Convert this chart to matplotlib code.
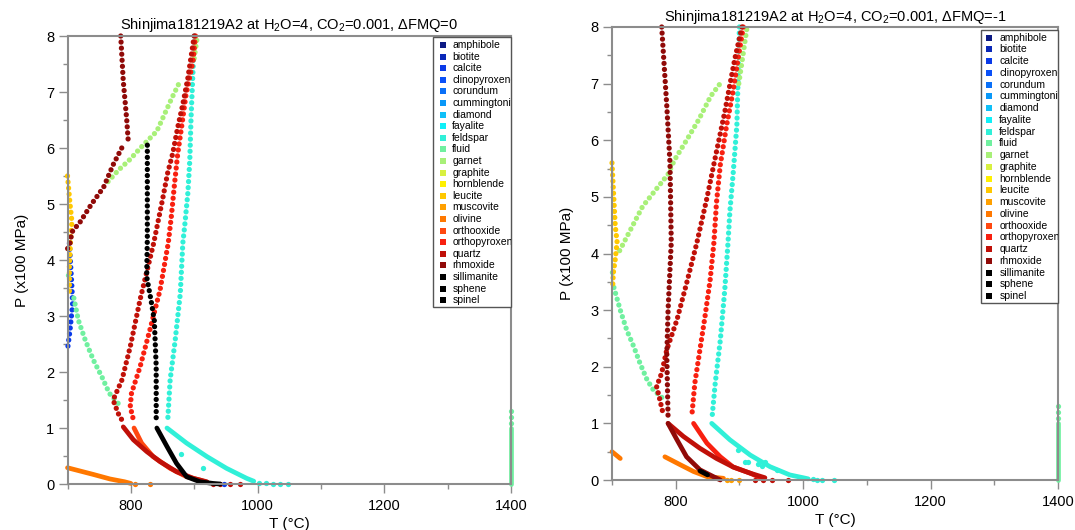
import numpy as np
import matplotlib.pyplot as plt
from matplotlib.patches import Rectangle

plt.rcParams['font.family'] = ['Liberation Sans', 'DejaVu Sans']
plt.rcParams['mathtext.fontset'] = 'custom'
plt.rcParams['mathtext.rm'] = 'Liberation Sans'

# legend phases and colours
phases = ['amphibole', 'biotite', 'calcite', 'clinopyroxene', 'corundum', 'cummingtonite',
          'diamond', 'fayalite', 'feldspar', 'fluid', 'garnet', 'graphite', 'hornblende',
          'leucite', 'muscovite', 'olivine', 'orthooxide', 'orthopyroxene', 'quartz',
          'rhmoxide', 'sillimanite', 'sphene', 'spinel']
phase_colors = ['#0c1a84', '#0a28b8', '#0a3ae8', '#0a50f8', '#0a70f8', '#0a98f8',
                '#10c0f8', '#10f0f8', '#30f0d8', '#70f0a0', '#a8f078', '#d8f040', '#fff000',
                '#ffc800', '#ffa000', '#ff7800', '#ff4810', '#f82010', '#c01008',
                '#900a08', '#000000', '#000000', '#000000']
col = dict(zip(phases, phase_colors))

# ---- left panel, dFMQ = 0 (T in C, P in x100 MPa) ----
# dotted chains
a_rhm1_T = [784, 788, 793.5, 796]
a_rhm1_P = [8.0, 7.2, 6.5, 6.1]
a_rhm2_T = [785.6, 772, 757, 738, 720, 707, 704, 700]
a_rhm2_P = [6.0, 5.7, 5.3, 5.0, 4.68, 4.5, 4.3, 4.2]
a_qtz_T = [900, 890, 882, 874, 866, 858, 850, 836, 814.5, 799, 786, 772, 780, 788]
a_qtz_P = [8.0, 7.25, 6.78, 6.37, 5.9, 5.55, 5.08, 4.3, 3.29, 2.45, 1.86, 1.5, 1.26, 1.1]
a_opx_T = [902, 898, 887, 880, 874, 869, 864, 859, 846, 830, 814.5, 801, 799, 805]
a_opx_P = [8.0, 7.54, 6.95, 6.37, 5.9, 5.37, 4.79, 4.3, 3.46, 2.75, 2.09, 1.62, 1.38, 1.1]
a_fsp_T = [900, 898, 895, 893, 890, 885, 882, 878, 870, 862, 858]
a_fsp_P = [8.0, 7.36, 6.54, 5.78, 5.2, 4.61, 4.3, 3.4, 2.57, 1.86, 1.1]
a_blk_T = [826, 826, 825, 832, 837, 840, 840]
a_blk_P = [6.05, 4.4, 3.7, 3.27, 2.92, 2.1, 1.1]
a_grt_T = [764, 780, 799, 815, 841, 865, 878]
a_grt_P = [5.4, 5.6, 5.8, 6.0, 6.3, 6.9, 7.2]
a_grt2_T = [900, 905]
a_grt2_P = [7.6, 8.0]
a_fl_T = [710, 717, 728, 741, 754, 766, 783]
a_fl_P = [3.32, 2.93, 2.57, 2.21, 1.92, 1.62, 1.4]
a_lc_T = [700, 704, 707, 705, 703, 703]
a_lc_P = [5.5, 5.0, 4.68, 4.4, 3.9, 3.4]
a_cc_T = [703, 707, 708, 704, 700]
a_cc_P = [4.3, 3.5, 3.2, 2.75, 2.4]
# dense low-pressure curves
a_qtz_d_T = [788, 804, 825, 846, 872, 899, 920]
a_qtz_d_P = [1.02, 0.79, 0.58, 0.4, 0.22, 0.1, 0.04]
a_oox_d_T = [805, 817, 835, 862, 888, 909, 920]
a_oox_d_P = [1.0, 0.73, 0.49, 0.28, 0.13, 0.07, 0.03]
a_blk_d_T = [841, 857, 872, 888, 909, 930, 941]
a_blk_d_P = [1.0, 0.67, 0.37, 0.13, 0.04, 0.01, 0.0]
a_fsp_d_T = [857, 888, 920, 951, 983, 994]
a_fsp_d_P = [1.0, 0.73, 0.49, 0.28, 0.1, 0.05]
a_ol_d_T = [700, 741, 767, 790, 800]
a_ol_d_P = [0.29, 0.17, 0.09, 0.04, 0.01]
# single points
a_qtz_pts_T = [930, 940, 956, 973]
a_qtz_pts_P = [0, 0, 0, 0]
a_fsp_pts_T = [879, 914, 1003, 1013, 1024, 1035, 1048]
a_fsp_pts_P = [0.54, 0.28, 0.02, 0.01, 0.0, 0.0, 0.0]
a_ol_pts_T = [806, 830]
a_ol_pts_P = [0, 0]
a_cc_pts_T = [947]
a_cc_pts_P = [0]
a_fl_pts_T = [700]
a_fl_pts_P = [3.73]

# ---- right panel, dFMQ = -1 ----
b_rhm_T = [778, 786, 791, 793, 788, 786, 788]
b_rhm_P = [8.0, 6.6, 5.6, 4.2, 3.0, 2.2, 1.1]
b_qtz_T = [904, 893, 885, 877, 864, 849, 833, 817, 802, 786, 778, 770, 774, 780]
b_qtz_P = [8.0, 7.45, 6.98, 6.5, 5.8, 4.98, 4.18, 3.47, 2.83, 2.3, 1.89, 1.65, 1.47, 1.18]
b_opx_T = [906, 898, 890, 880, 870, 864, 860, 854, 846, 838, 830, 825]
b_opx_P = [8.0, 7.45, 6.86, 6.27, 5.57, 4.9, 4.2, 3.53, 2.89, 2.3, 1.71, 1.1]
b_fsp_T = [900, 898, 896, 890, 885, 882, 877, 870, 862, 857]
b_fsp_P = [8.0, 7.16, 6.27, 5.39, 4.74, 4.18, 3.36, 2.47, 1.71, 1.1]
b_grt_T = [712, 718, 748, 769, 788, 798, 817, 836, 855, 871]
b_grt_P = [4.05, 4.18, 4.83, 5.13, 5.4, 5.65, 6.0, 6.36, 6.78, 7.02]
b_grt2_T = [899, 912]
b_grt2_P = [7.0, 8.0]
b_fl_T = [703, 713, 723, 734, 744, 755, 765, 783]
b_fl_P = [3.4, 3.0, 2.65, 2.36, 2.06, 1.77, 1.59, 1.41]
b_lc_T = [700, 705, 708, 705, 702, 701]
b_lc_P = [5.6, 4.5, 4.2, 3.89, 3.65, 3.4]
b_rhm_d_T = [788, 802, 817, 838, 859, 870]
b_rhm_d_P = [1.0, 0.71, 0.41, 0.18, 0.06, 0.0]
b_qtz_d_T = [788, 812, 838, 864, 890, 917, 940]
b_qtz_d_P = [1.0, 0.77, 0.56, 0.38, 0.23, 0.12, 0.04]
b_opx_d_T = [828, 849, 870, 890, 917, 935]
b_opx_d_P = [1.0, 0.65, 0.41, 0.23, 0.12, 0.03]
b_fsp_d_T = [856.5, 885, 917, 948, 979, 1000, 1008]
b_fsp_d_P = [1.0, 0.71, 0.44, 0.235, 0.09, 0.04, 0.02]
b_ol1_d_T = [700, 713]
b_ol1_d_P = [0.5, 0.38]
b_ol2_d_T = [783, 807, 828, 849, 875]
b_ol2_d_P = [0.41, 0.27, 0.15, 0.06, 0.03]
b_blk_d_T = [838, 850]
b_blk_d_P = [0.16, 0.09]
b_qtz_pts_T = [924, 937, 951, 977]
b_qtz_pts_P = [0, 0, 0, 0]
b_ms_pts_T = [880, 886, 900]
b_ms_pts_P = [0, 0, 0]
b_fsp_pts_T = [898, 909, 913, 929, 935, 940, 959, 1016, 1022, 1030, 1048]
b_fsp_pts_P = [0.53, 0.32, 0.32, 0.29, 0.24, 0.32, 0.18, 0.01, 0.0, 0.0, 0.0]
b_fl_pts_T = [700]
b_fl_pts_P = [3.68]

# fluid column at 1400 C (both panels)
fl1400_dot_T = [1400, 1400]
fl1400_dot_P = [1.3, 1.0]
fl1400_T = [1400, 1400]
fl1400_P = [1.0, 0.0]

LW_DOT = 3.8
LW_DENSE = 3.4


def dotted(ax, T, P, c):
    ax.plot(T, P, color=c, lw=LW_DOT, ls=(0, (0.01, 1.14)), dash_capstyle='round', clip_on=False)


def dense(ax, T, P, c):
    ax.plot(T, P, color=c, lw=LW_DENSE, solid_capstyle='round', clip_on=False)


def pts(ax, T, P, c):
    ax.plot(T, P, 'o', color=c, ms=LW_DOT, mew=0, clip_on=False)


def style_axes(ax, title, title_pad):
    ax.set_xlim(700, 1400)
    ax.set_ylim(0, 8)
    ax.set_xticks([800, 1000, 1200, 1400])
    ax.set_xticks([700, 900, 1100, 1300], minor=True)
    ax.set_yticks(range(0, 9))
    ax.set_yticks(np.arange(0.5, 8, 1), minor=True)
    for s in ax.spines.values():
        s.set_color('#8c8c8c')
        s.set_linewidth(1.5)
    ax.tick_params(which='major', direction='out', length=6.5, width=1, color='#8c8c8c', labelsize=10.5)
    ax.tick_params(which='minor', direction='out', length=3.5, width=1, color='#8c8c8c')
    ax.tick_params(axis='x', which='major', pad=4)
    ax.tick_params(axis='y', which='major', pad=3)
    ax.set_xlabel('T (°C)', fontsize=11, labelpad=3)
    ax.set_ylabel('P (x100 MPa)', fontsize=11, labelpad=12)
    ax.set_title(title, fontsize=10.5, pad=title_pad)


def legend_box(fig, ax, left, top, right, bottom, y0, step, mx, tx):
    W, H = 1075.0, 530.0
    fig.add_artist(Rectangle((left / W, 1 - bottom / H), (right - left) / W, (bottom - top) / H,
                             transform=fig.transFigure, facecolor='white', edgecolor='#555555',
                             lw=1.0, zorder=5))
    for i, (name, c) in enumerate(zip(phases, phase_colors)):
        y = 1 - (y0 + i * step) / H
        fig.add_artist(plt.Line2D([mx / W], [y], marker='s', ms=4.8, mew=0, color=c,
                                  transform=fig.transFigure, zorder=6))
        t = fig.text(tx / W, y, name, fontsize=7.5, va='center', ha='left', zorder=6)
        t.set_clip_box(ax.bbox)
        t.set_clip_on(True)


fig = plt.figure(figsize=(10.75, 5.3), dpi=100)
ax1 = fig.add_axes([67.5 / 1075, 1 - 484 / 530, 443.5 / 1075, 448 / 530])
ax2 = fig.add_axes([612 / 1075, 1 - 480 / 530, 446 / 1075, 453 / 530])

# left panel
dotted(ax1, a_cc_T, a_cc_P, col['calcite'])
dotted(ax1, a_fsp_T, a_fsp_P, col['feldspar'])
dense(ax1, a_fsp_d_T, a_fsp_d_P, col['feldspar'])
pts(ax1, a_fsp_pts_T, a_fsp_pts_P, col['feldspar'])
dotted(ax1, a_fl_T, a_fl_P, col['fluid'])
pts(ax1, a_fl_pts_T, a_fl_pts_P, col['fluid'])
dotted(ax1, fl1400_dot_T, fl1400_dot_P, col['fluid'])
dense(ax1, fl1400_T, fl1400_P, col['fluid'])
dotted(ax1, a_grt_T, a_grt_P, col['garnet'])
dotted(ax1, a_grt2_T, a_grt2_P, col['garnet'])
dotted(ax1, a_lc_T, a_lc_P, col['leucite'])
dense(ax1, a_ol_d_T, a_ol_d_P, col['olivine'])
pts(ax1, a_ol_pts_T, a_ol_pts_P, col['olivine'])
dense(ax1, a_oox_d_T, a_oox_d_P, col['orthooxide'])
dotted(ax1, a_opx_T, a_opx_P, col['orthopyroxene'])
dotted(ax1, a_qtz_T, a_qtz_P, col['quartz'])
dense(ax1, a_qtz_d_T, a_qtz_d_P, col['quartz'])
pts(ax1, a_qtz_pts_T, a_qtz_pts_P, col['quartz'])
pts(ax1, a_cc_pts_T, a_cc_pts_P, col['calcite'])
dotted(ax1, a_rhm1_T, a_rhm1_P, col['rhmoxide'])
dotted(ax1, a_rhm2_T, a_rhm2_P, col['rhmoxide'])
dotted(ax1, a_blk_T, a_blk_P, col['spinel'])
dense(ax1, a_blk_d_T, a_blk_d_P, col['spinel'])
style_axes(ax1, 'Shinjima181219A2 at H$_2$O=4, CO$_2$=0.001, ΔFMQ=0', 5)

# right panel
dotted(ax2, b_fsp_T, b_fsp_P, col['feldspar'])
dense(ax2, b_fsp_d_T, b_fsp_d_P, col['feldspar'])
pts(ax2, b_fsp_pts_T, b_fsp_pts_P, col['feldspar'])
dotted(ax2, b_fl_T, b_fl_P, col['fluid'])
pts(ax2, b_fl_pts_T, b_fl_pts_P, col['fluid'])
dotted(ax2, fl1400_dot_T, fl1400_dot_P, col['fluid'])
dense(ax2, fl1400_T, fl1400_P, col['fluid'])
dotted(ax2, b_grt_T, b_grt_P, col['garnet'])
dotted(ax2, b_grt2_T, b_grt2_P, col['garnet'])
dotted(ax2, b_lc_T, b_lc_P, col['leucite'])
pts(ax2, b_ms_pts_T, b_ms_pts_P, col['muscovite'])
dense(ax2, b_ol1_d_T, b_ol1_d_P, col['olivine'])
dense(ax2, b_ol2_d_T, b_ol2_d_P, col['olivine'])
dotted(ax2, b_opx_T, b_opx_P, col['orthopyroxene'])
dense(ax2, b_opx_d_T, b_opx_d_P, col['orthopyroxene'])
dotted(ax2, b_qtz_T, b_qtz_P, col['quartz'])
dense(ax2, b_qtz_d_T, b_qtz_d_P, col['quartz'])
pts(ax2, b_qtz_pts_T, b_qtz_pts_P, col['quartz'])
dotted(ax2, b_rhm_T, b_rhm_P, col['rhmoxide'])
dense(ax2, b_rhm_d_T, b_rhm_d_P, col['rhmoxide'])
dense(ax2, b_blk_d_T, b_blk_d_P, col['spinel'])
style_axes(ax2, 'Shinjima181219A2 at H$_2$O=4, CO$_2$=0.001, ΔFMQ=-1', 4)

legend_box(fig, ax1, 433.3, 37.3, 511, 307.3, 45, 11.6, 442.7, 452.3)
legend_box(fig, ax2, 980.7, 30, 1058, 303, 37.7, 11.74, 989.3, 999.3)

fig.savefig('out.png', dpi=100)
